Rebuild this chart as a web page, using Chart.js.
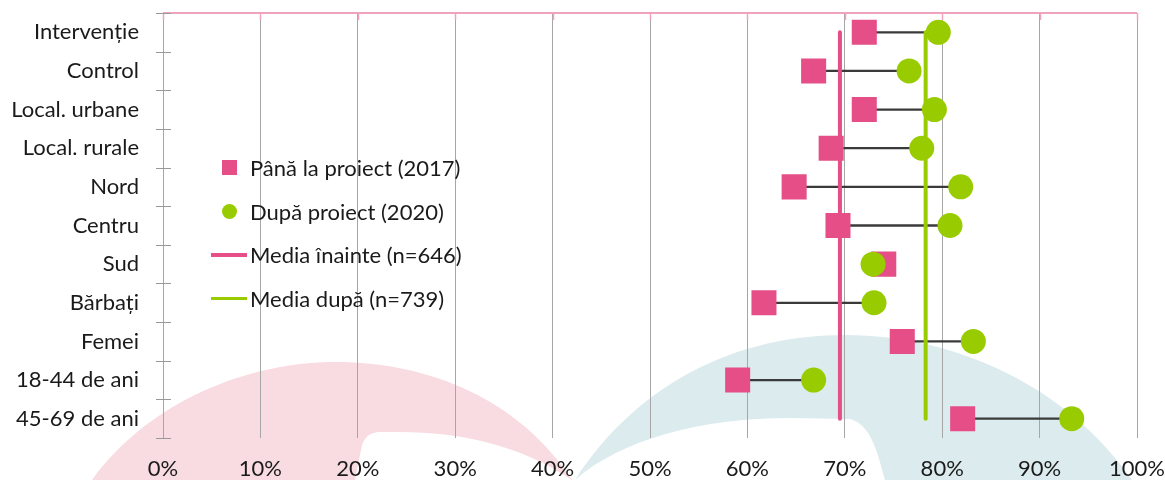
<!DOCTYPE html>
<html>
<head>
<meta charset="utf-8">
<script src="https://cdn.jsdelivr.net/npm/chart.js@4/dist/chart.umd.min.js"></script>
<style>
  html, body { margin: 0; padding: 0; background: #fff; }
  #wrap { position: relative; width: 1165px; height: 480px; }
  #legend { position: absolute; left: 211px; top: 146px; font-family: Lato, sans-serif; font-size: 22px; color: #1a1a1a; }
  .item { display: flex; align-items: center; height: 43.5px; }
  .sym { width: 36px; display: flex; align-items: center; justify-content: center; margin-right: 3px; }
</style>
</head>
<body>
<div id="wrap">
  <canvas id="chart" width="1165" height="480"></canvas>
  <div id="legend"></div>
</div>
<script>
const groups = ['Intervenție', 'Control', 'Local. urbane', 'Local. rurale', 'Nord', 'Centru', 'Sud', 'Bărbați', 'Femei', '18-44 de ani', '45-69 de ani'];
const before2017 = [72.0, 66.8, 72.0, 68.6, 64.8, 69.3, 74.0, 61.7, 75.9, 59.0, 82.1];
const after2020 = [79.6, 76.6, 79.2, 77.9, 81.9, 80.8, 72.9, 73.0, 83.2, 66.8, 93.3];
const meanBefore = 69.5;
const meanAfter = 78.3;
const seriesNames = ['Până la proiect (2017)', 'După proiect (2020)', 'Media înainte (n=646)', 'Media după (n=739)'];
const xTicks = [0, 10, 20, 30, 40, 50, 60, 70, 80, 90, 100];

const PINK = '#e54e87';
const GREEN = '#99cc00';
const FONT = 'Lato, sans-serif';

// soft logo shapes behind the plot
const backdrop = {
  id: 'backdrop',
  beforeDraw(chart) {
    const c = chart.ctx;
    c.save();
    c.fillStyle = '#f9dce1';
    c.beginPath();
    c.moveTo(92, 480);
    c.bezierCurveTo(150, 400, 250, 362, 335, 362);
    c.bezierCurveTo(430, 362, 520, 400, 572, 480);
    c.bezierCurveTo(520, 445, 460, 432, 400, 432);
    c.lineTo(378, 432);
    c.quadraticCurveTo(366, 433, 362, 445);
    c.lineTo(355, 480);
    c.closePath();
    c.fill();

    c.fillStyle = '#dcebee';
    c.beginPath();
    c.moveTo(575, 480);
    c.bezierCurveTo(640, 380, 740, 335, 845, 335);
    c.bezierCurveTo(960, 335, 1070, 390, 1132, 480);
    c.lineTo(885, 480);
    c.bezierCurveTo(878, 455, 872, 425, 850, 419);
    c.lineTo(790, 418);
    c.bezierCurveTo(700, 418, 620, 440, 575, 480);
    c.closePath();
    c.fill();
    c.restore();
  }
};

// pink top rule, category separators on the y axis
const frame = {
  id: 'frame',
  afterDraw(chart) {
    const c = chart.ctx;
    const a = chart.chartArea;
    const xs = chart.scales.x, ys = chart.scales.y;
    c.save();
    c.strokeStyle = '#f0a3bd';
    c.lineWidth = 2;
    c.beginPath();
    c.moveTo(a.left, a.top);
    c.lineTo(a.right, a.top);
    c.stroke();
    c.lineWidth = 1.5;
    xTicks.forEach(v => {
      const px = Math.round(xs.getPixelForValue(v)) + 0.5;
      c.beginPath();
      c.moveTo(px, a.top);
      c.lineTo(px, a.top + 7);
      c.stroke();
    });
    c.strokeStyle = '#999';
    c.lineWidth = 1;
    const step = ys.getPixelForValue(1) - ys.getPixelForValue(0);
    for (let i = 0; i <= groups.length; i++) {
      const py = Math.round(ys.getPixelForValue(i) - step / 2) + 0.5;
      c.beginPath();
      c.moveTo(a.left - 7, py);
      c.lineTo(a.left + 8, py);
      c.stroke();
    }
    c.restore();
  }
};

const ctx = document.getElementById('chart').getContext('2d');
new Chart(ctx, {
  type: 'bar',
  data: {
    labels: groups,
    datasets: [
      {
        type: 'line',
        label: seriesNames[1],
        data: groups.map((g, i) => ({ x: after2020[i], y: g })),
        showLine: false,
        pointStyle: 'circle',
        pointRadius: 12.5,
        pointBackgroundColor: GREEN,
        pointBorderWidth: 0,
        order: 1
      },
      {
        type: 'line',
        label: seriesNames[0],
        data: groups.map((g, i) => ({ x: before2017[i], y: g })),
        showLine: false,
        pointStyle: 'rect',
        pointRadius: 17.7,
        pointBackgroundColor: PINK,
        pointBorderWidth: 0,
        order: 2
      },
      {
        type: 'line',
        label: seriesNames[2],
        data: [{ x: meanBefore, y: groups[0] }, { x: meanBefore, y: groups[groups.length - 1] }],
        borderColor: PINK,
        borderWidth: 4,
        borderCapStyle: 'round',
        pointRadius: 0,
        order: 3
      },
      {
        type: 'line',
        label: seriesNames[3],
        data: [{ x: meanAfter, y: groups[0] }, { x: meanAfter, y: groups[groups.length - 1] }],
        borderColor: GREEN,
        borderWidth: 4,
        borderCapStyle: 'round',
        pointRadius: 0,
        order: 3
      },
      {
        label: 'gap',
        data: groups.map((g, i) => [before2017[i], after2020[i]]),
        backgroundColor: '#3a3a3a',
        barThickness: 1.6,
        order: 5
      }
    ]
  },
  options: {
    indexAxis: 'y',
    responsive: false,
    animation: false,
    layout: { autoPadding: false, padding: { top: 13, right: 28, left: 0, bottom: 0 } },
    plugins: { legend: { display: false }, tooltip: { enabled: false } },
    scales: {
      x: {
        type: 'linear',
        min: 0,
        max: 100,
        ticks: {
          stepSize: 10,
          padding: 18,
          color: '#1a1a1a',
          font: { family: FONT, size: 22 },
          callback: v => v + '%'
        },
        grid: { color: '#a6a6a6', drawTicks: false },
        border: { display: false },
        afterFit: s => { s.height = 42; s.paddingLeft = 0; s.paddingRight = 0; }
      },
      y: {
        type: 'category',
        offset: true,
        ticks: { padding: 16, color: '#1a1a1a', font: { family: FONT, size: 22 } },
        grid: { display: false },
        border: { display: false },
        afterFit: s => { s.width = 163; s.paddingTop = 0; s.paddingBottom = 0; }
      }
    }
  },
  plugins: [backdrop, frame]
});

// legend entries
const legend = document.getElementById('legend');
const symbols = [
  `<span style="width:15px;height:15px;background:${PINK}"></span>`,
  `<span style="width:15px;height:15px;border-radius:50%;background:${GREEN}"></span>`,
  `<span style="width:36px;height:3.5px;background:${PINK}"></span>`,
  `<span style="width:36px;height:3.5px;background:${GREEN}"></span>`
];
seriesNames.forEach((name, i) => {
  const row = document.createElement('div');
  row.className = 'item';
  row.innerHTML = `<span class="sym">${symbols[i]}</span><span>${name}</span>`;
  legend.appendChild(row);
});
</script>
</body>
</html>
